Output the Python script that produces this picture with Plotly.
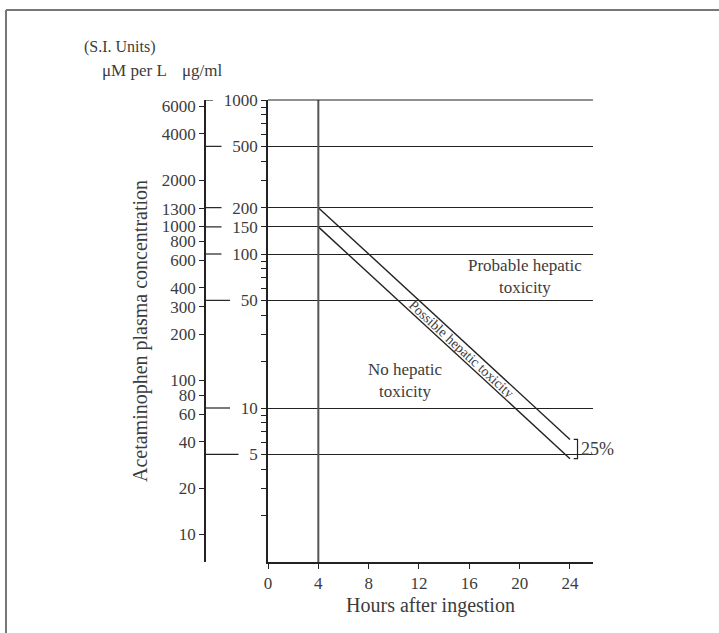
import numpy as np
import plotly.graph_objects as go

# data
hour_ticks = [0, 4, 8, 12, 16, 20, 24]
line_hours = [4, 24]
upper_line = [200, 6.25]     # ug/ml, "treatment" line
lower_line = [150, 4.69]     # 25% below
ugml_ticks = [1000, 500, 200, 150, 100, 50, 10, 5]
umol_ticks = [6000, 4000, 2000, 1300, 1000, 800, 600, 400, 300, 200, 100, 80, 60, 40, 20, 10]
minor_ticks = [m * 10 ** d for d in range(0, 3) for m in range(2, 10)]
mw = 151.16  # paracetamol molar mass -> uM = ug/ml * 1000 / mw

FONT = "Liberation Serif"
TXT = "#3c3c3c"
INK = "#222222"

conv = 1000.0 / mw
W, H = 719, 633
L, R, T, B = 205, 126, 100, 71
pw, ph = W - L - R, H - T - B
xdom0 = (268 - L) / pw


def px(x):  # pixel x -> paper
    return (x - L) / pw


def py(y):  # pixel y -> paper
    return (H - B - y) / ph


fig = go.Figure()

# diagonal lines
fig.add_trace(go.Scatter(x=line_hours, y=upper_line, mode='lines',
                         line=dict(color=INK, width=1.4), showlegend=False, hoverinfo='skip'))
fig.add_trace(go.Scatter(x=line_hours, y=lower_line, mode='lines',
                         line=dict(color=INK, width=1.4), showlegend=False, hoverinfo='skip'))

# vertical line at 4 h
fig.add_trace(go.Scatter(x=[line_hours[0], line_hours[0]], y=[1, 1000], mode='lines',
                         line=dict(color="#555555", width=2), showlegend=False, hoverinfo='skip'))

# 25% bracket
bx0 = line_hours[1] + 0.3
bx1 = line_hours[1] + 0.6
fig.add_trace(go.Scatter(x=[bx0, bx1, bx1, bx0], y=[upper_line[1], upper_line[1], lower_line[1], lower_line[1]],
                         mode='lines', line=dict(color=INK, width=1.2), showlegend=False,
                         hoverinfo='skip', cliponaxis=False))

# invisible trace so the uM axis is drawn
fig.add_trace(go.Scatter(x=[line_hours[0]], y=[upper_line[0] * conv], yaxis='y2', mode='markers',
                         marker=dict(opacity=0), showlegend=False, hoverinfo='skip'))

# stubs of the grid lines between the two scales
for v in ugml_ticks:
    end = 247 - 8.5 * len(str(v))
    fig.add_shape(type='line', xref='paper', yref='y', x0=0, x1=px(end), y0=v, y1=v,
                  line=dict(color=INK, width=1.2))

# top grid line (edge of the plot)
fig.add_shape(type='line', xref='paper', yref='paper', x0=xdom0, x1=1, y0=1, y1=1,
              line=dict(color=INK, width=1.2))

# outer frame
fig.add_shape(type='line', xref='paper', yref='paper', x0=px(6), x1=px(719), y0=py(10), y1=py(10),
              line=dict(color="#777777", width=2))
fig.add_shape(type='line', xref='paper', yref='paper', x0=px(6), x1=px(6), y0=py(10), y1=py(633),
              line=dict(color="#777777", width=2))

# region labels
fig.add_annotation(x=10.9, y=np.log10(15), text="No hepatic<br>toxicity", showarrow=False,
                   font=dict(size=17, color=TXT, family=FONT))
fig.add_annotation(x=20.4, y=np.log10(71), text="Probable hepatic<br>toxicity", showarrow=False,
                   font=dict(size=17, color=TXT, family=FONT))
fig.add_annotation(x=15.4, y=np.log10(24.1), text="Possible hepatic toxicity", showarrow=False,
                   textangle=42.6, font=dict(size=14, color=TXT, family=FONT))
fig.add_annotation(x=bx1 + 0.15, y=np.log10(np.sqrt(upper_line[1] * lower_line[1])), text="25%",
                   xanchor='left', showarrow=False, font=dict(size=18, color=TXT, family=FONT))

# header
fig.add_annotation(xref='paper', yref='paper', x=px(82), y=py(47), text="(S.I. Units)", xanchor='left',
                   yanchor='middle', showarrow=False, font=dict(size=16, color=TXT, family=FONT))
fig.add_annotation(xref='paper', yref='paper', x=px(100), y=py(71), text="μM per L", xanchor='left',
                   yanchor='middle', showarrow=False, font=dict(size=17, color=TXT, family=FONT))
fig.add_annotation(xref='paper', yref='paper', x=px(180), y=py(71), text="μg/ml", xanchor='left',
                   yanchor='middle', showarrow=False, font=dict(size=17, color=TXT, family=FONT))

fig.update_layout(
    width=W, height=H,
    margin=dict(l=L, r=R, t=T, b=B),
    paper_bgcolor='white', plot_bgcolor='white',
    font=dict(family=FONT, size=17, color=TXT),
    showlegend=False,
    xaxis=dict(domain=[xdom0, 1], range=[0, 25.83], tickvals=hour_ticks, ticks='outside', ticklen=5,
               tickcolor=INK, showline=True, linecolor=INK, linewidth=1.5, showgrid=False,
               zeroline=False, title=dict(text="Hours after ingestion", standoff=6),
               tickfont=dict(size=17, color=TXT)),
    yaxis=dict(type='log', range=[0, 3], tickvals=ugml_ticks, ticktext=[str(v) for v in ugml_ticks],
               ticks='outside', ticklen=5, tickcolor=INK, showline=True, linecolor=INK, linewidth=1.5,
               showgrid=True, gridcolor=INK, gridwidth=1.2, zeroline=False, anchor='x',
               minor=dict(tickvals=minor_ticks, ticks='outside', ticklen=5, tickcolor=INK, showgrid=False),
               tickfont=dict(size=17, color=TXT)),
    yaxis2=dict(type='log', range=[np.log10(conv), np.log10(1000 * conv)], overlaying='y',
                anchor='free', position=0, side='left', tickvals=umol_ticks,
                ticktext=[str(v) for v in umol_ticks], ticks='outside', ticklen=5, tickcolor=INK,
                showline=True, linecolor=INK, linewidth=1.5, showgrid=False, zeroline=False,
                title=dict(text="Acetaminophen plasma concentration", standoff=8),
                tickfont=dict(size=17, color=TXT)),
)

# drop the page's default 8px body margin so the figure sits at the window origin
fig.write_html("out.html", config={'displayModeBar': False},
               post_script="document.body.style.margin='0px';")
